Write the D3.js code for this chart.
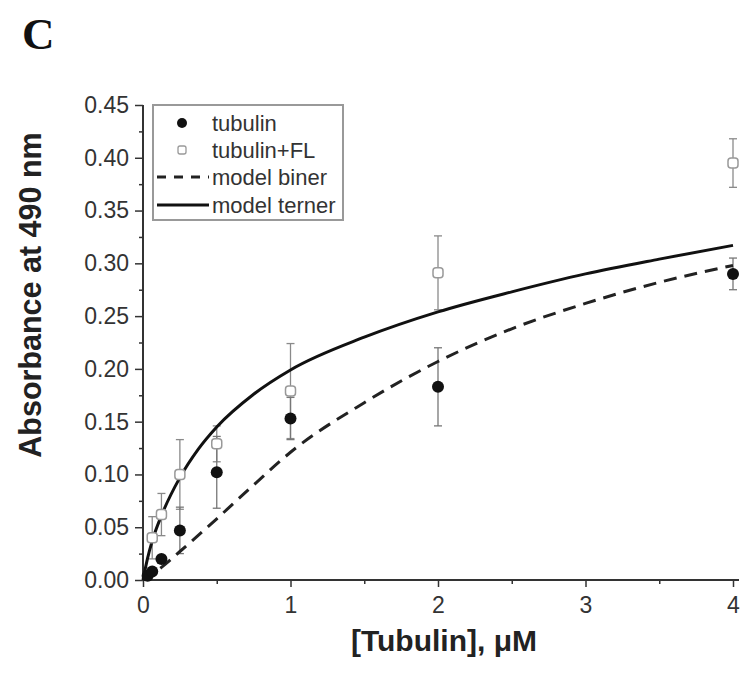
<!DOCTYPE html>
<html>
<head>
<meta charset="utf-8">
<script src="https://cdn.jsdelivr.net/npm/d3@7/dist/d3.min.js"></script>
<style>
  html, body { margin: 0; padding: 0; background: #fff; }
  svg { display: block; }
</style>
</head>
<body>
<svg id="chart" width="745" height="678"></svg>
<script>
// ---- data ----
const xTicks = [0, 1, 2, 3, 4];
const xMinorTicks = [0.5, 1.5, 2.5, 3.5];
const yTicks = [0, 0.05, 0.10, 0.15, 0.20, 0.25, 0.30, 0.35, 0.40, 0.45];
const yMinorTicks = [0.025, 0.075, 0.125, 0.175, 0.225, 0.275, 0.325, 0.375, 0.425];

const tubulinX   = [0.03125, 0.0625, 0.125, 0.25, 0.5, 1, 2, 4];
const tubulinY   = [0.004, 0.008, 0.020, 0.047, 0.102, 0.153, 0.183, 0.290];
const tubulinErr = [0.000, 0.000, 0.000, 0.022, 0.034, 0.020, 0.037, 0.015];

const flX   = [0.0625, 0.125, 0.25, 0.5, 1, 2, 4];
const flY   = [0.040, 0.062, 0.100, 0.129, 0.179, 0.291, 0.395];
const flErr = [0.020, 0.020, 0.033, 0.017, 0.045, 0.035, 0.023];

const binerX = [0, 0.125, 0.25, 0.5, 0.75, 1, 1.5, 2, 2.5, 3, 3.5, 4];
const binerY = [0, 0.012, 0.027, 0.058, 0.090, 0.121, 0.168, 0.207, 0.238, 0.262, 0.282, 0.298];

const ternerX = [0, 0.03, 0.0625, 0.125, 0.25, 0.375, 0.5, 0.75, 1, 1.5, 2, 2.5, 3, 3.5, 4];
const ternerY = [0, 0.020, 0.037, 0.061, 0.097, 0.124, 0.145, 0.176, 0.199, 0.230, 0.254, 0.273, 0.290, 0.304, 0.317];

const legendLabels = ["tubulin", "tubulin+FL", "model biner", "model terner"];

// ---- scales ----
const svg = d3.select("#chart");
const x = d3.scaleLinear().domain([0, 4]).range([143, 733]);
const y = d3.scaleLinear().domain([0, 0.45]).range([580, 105]);

const axisColor = "#333";
const tickFont = "'Liberation Sans', Arial, sans-serif";

// ---- axes ----
const gx = svg.append("g").attr("transform", `translate(0,${y(0)})`)
  .call(d3.axisBottom(x).tickValues(xTicks).tickSize(7).tickPadding(10).tickFormat(d3.format("d")));
const gxm = svg.append("g").attr("transform", `translate(0,${y(0)})`)
  .call(d3.axisBottom(x).tickValues(xMinorTicks).tickSize(4).tickFormat(""));
const gy = svg.append("g").attr("transform", `translate(${x(0)},0)`)
  .call(d3.axisLeft(y).tickValues(yTicks).tickSize(8).tickPadding(6).tickFormat(d3.format(".2f")));
const gym = svg.append("g").attr("transform", `translate(${x(0)},0)`)
  .call(d3.axisLeft(y).tickValues(yMinorTicks).tickSize(4).tickFormat(""));

[gx, gxm, gy, gym].forEach(g => {
  g.selectAll(".domain").attr("stroke", axisColor).attr("stroke-width", 2);
  g.selectAll(".tick line").attr("stroke", axisColor).attr("stroke-width", 1.5);
  g.selectAll(".tick text").attr("fill", "#333").style("font-family", tickFont).style("font-size", "23px");
});
gxm.select(".domain").remove();
gym.select(".domain").remove();
gx.select(".domain").attr("d", `M${x(0)},0H${x(4) + 6}`);
gy.select(".domain").attr("d", `M0,${y(0)}V${y(0.45)}`);

// ---- error bars ----
function errorBars(xs, ys, es, color) {
  const g = svg.append("g").attr("stroke", color).attr("stroke-width", 1.3).attr("fill", "none");
  xs.forEach((xv, i) => {
    if (es[i] <= 0) return;
    const cx = x(xv), top = y(ys[i] + es[i]), bot = y(ys[i] - es[i]);
    g.append("line").attr("x1", cx).attr("x2", cx).attr("y1", top).attr("y2", bot);
    g.append("line").attr("x1", cx - 4).attr("x2", cx + 4).attr("y1", top).attr("y2", top);
    g.append("line").attr("x1", cx - 4).attr("x2", cx + 4).attr("y1", bot).attr("y2", bot);
  });
}
errorBars(flX, flY, flErr, "#8a8a8a");
errorBars(tubulinX, tubulinY, tubulinErr, "#777");

// ---- model curves ----
const line = d3.line().x(d => x(d[0])).y(d => y(d[1])).curve(d3.curveMonotoneX);
svg.append("path").datum(binerX.map((v, i) => [v, binerY[i]]))
  .attr("d", line).attr("fill", "none").attr("stroke", "#222")
  .attr("stroke-width", 3).attr("stroke-dasharray", "13,8");
svg.append("path").datum(ternerX.map((v, i) => [v, ternerY[i]]))
  .attr("d", line).attr("fill", "none").attr("stroke", "#111")
  .attr("stroke-width", 3);

// ---- markers ----
svg.append("g").selectAll("rect").data(flX.map((v, i) => [v, flY[i]])).join("rect")
  .attr("x", d => x(d[0]) - 5).attr("y", d => y(d[1]) - 5)
  .attr("width", 10).attr("height", 10).attr("rx", 3)
  .attr("fill", "#fff").attr("stroke", "#999").attr("stroke-width", 1.5);
svg.append("g").selectAll("circle").data(tubulinX.map((v, i) => [v, tubulinY[i]])).join("circle")
  .attr("cx", d => x(d[0])).attr("cy", d => y(d[1])).attr("r", 6)
  .attr("fill", "#111");

// ---- legend ----
const lg = svg.append("g");
lg.append("rect").attr("x", 153).attr("y", 105).attr("width", 190).attr("height", 115)
  .attr("fill", "#fff").attr("stroke", "#999").attr("stroke-width", 2);
const rowY = [123, 150, 177, 205];
lg.append("circle").attr("cx", 182).attr("cy", rowY[0]).attr("r", 5).attr("fill", "#111");
lg.append("rect").attr("x", 178).attr("y", rowY[1] - 4).attr("width", 8).attr("height", 8).attr("rx", 2)
  .attr("fill", "#fff").attr("stroke", "#999").attr("stroke-width", 1.3);
lg.append("line").attr("x1", 157).attr("x2", 209).attr("y1", rowY[2]).attr("y2", rowY[2])
  .attr("stroke", "#222").attr("stroke-width", 3).attr("stroke-dasharray", "9,8");
lg.append("line").attr("x1", 157).attr("x2", 209).attr("y1", rowY[3]).attr("y2", rowY[3])
  .attr("stroke", "#111").attr("stroke-width", 3);
lg.selectAll("text").data(legendLabels).join("text")
  .attr("x", 212).attr("y", (d, i) => rowY[i]).attr("dy", "0.35em")
  .style("font-family", tickFont).style("font-size", "22px").attr("fill", "#333")
  .text(d => d);

// ---- titles ----
svg.append("text").attr("x", 444).attr("y", 651).attr("text-anchor", "middle")
  .style("font-family", tickFont).style("font-size", "30px").style("font-weight", "bold").attr("fill", "#222")
  .text("[Tubulin], μM");
svg.append("text").attr("transform", "translate(41,295) rotate(-90)").attr("text-anchor", "middle")
  .style("font-family", tickFont).style("font-size", "30.5px").style("font-weight", "bold").attr("fill", "#222")
  .text("Absorbance at 490 nm");
svg.append("text").attr("x", 22).attr("y", 49)
  .style("font-family", "'Liberation Serif', 'Times New Roman', serif").style("font-size", "45px").style("font-weight", "bold").attr("fill", "#111")
  .text("C");
</script>
</body>
</html>
